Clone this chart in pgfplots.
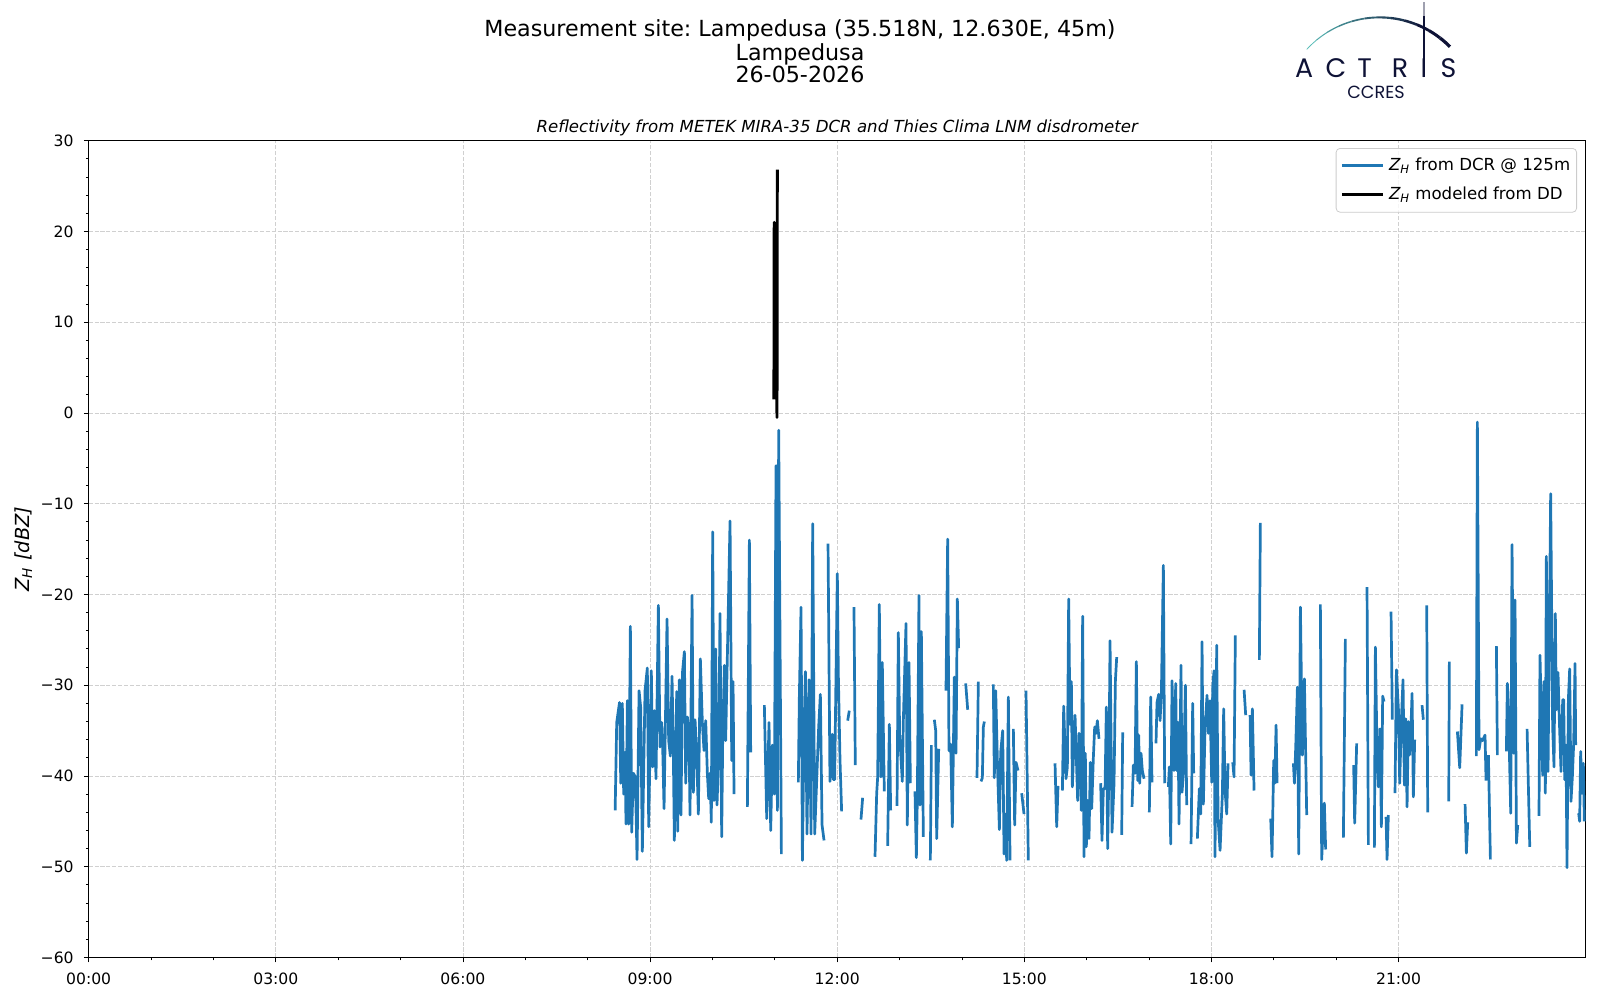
\documentclass[border=0pt]{standalone}
\usepackage{fontspec}
\setmainfont{DejaVu Sans}
\newfontfamily\logofont{Poppins}
\usepackage{pgfplots}
\pgfplotsset{compat=1.18}
\frenchspacing
\definecolor{mplblue}{HTML}{1F77B4}
\definecolor{gridgray}{HTML}{D0D0D0}
\definecolor{logonavy}{HTML}{0E1236}
\definecolor{logoteal}{HTML}{5BBDB8}
\definecolor{legedge}{HTML}{CCCCCC}
\begin{document}
\begin{tikzpicture}
\useasboundingbox (0,0) rectangle (800pt,500pt);
% titles
\node[anchor=base,inner sep=0pt,font=\fontsize{11.1}{13}\selectfont] at (400pt,481.65pt) {Measurement site: Lampedusa (35.518N, 12.630E, 45m)};
\node[anchor=base,inner sep=0pt,font=\fontsize{11.1}{13}\selectfont] at (400pt,469.9pt) {Lampedusa};
\node[anchor=base,inner sep=0pt,font=\fontsize{11.1}{13}\selectfont] at (400pt,458.7pt) {26-05-2026};
% logo
\foreach \i in {0,...,11} {
  \pgfmathsetmacro\aa{137.4-\i*7.725}
  \pgfmathsetmacro\bb{137.4-(\i+1)*7.725}
  \pgfmathsetmacro\cc{min(100,100*\i/9)}
  \pgfmathsetmacro\ww{0.4+\i*0.11}
  \draw[color=logonavy!\cc!logoteal, line width=\ww pt] ([shift={(\aa:49.5pt)}]689.8pt,441.8pt) arc[start angle=\aa, end angle=\bb, radius=49.5pt];
}
\draw[logonavy, line width=1.3pt] (712pt,461.35pt) -- (712pt,492pt);
\draw[logonavy!40, line width=1.3pt] (712pt,492pt) -- (712pt,499pt);
\foreach \l/\x in {A/652.1, C/668, T/682.25, R/700, I/712, S/724.25} {
  \node[anchor=base,inner sep=0pt,text=logonavy,font=\logofont\fontsize{13.4}{15}\selectfont] at (\x pt,461.35pt) {\l};
}
\node[anchor=base,inner sep=0pt,text=logonavy,font=\logofont\fontsize{8.8}{10}\selectfont] at (688pt,450.5pt) {CCRES};
\begin{axis}[
  at={(44.35pt,21.25pt)}, anchor=south west,
  width=748.5pt, height=408.4pt, scale only axis,
  xmin=0, xmax=24, ymin=-60, ymax=30,
  xtick={0,3,6,9,12,15,18,21},
  xticklabels={00:00,03:00,06:00,09:00,12:00,15:00,18:00,21:00},
  minor x tick num=2,
  ytick={-60,-50,-40,-30,-20,-10,0,10,20,30},
  yticklabels={−60,−50,−40,−30,−20,−10,0,10,20,30},
  minor y tick num=4,
  tick align=outside, tick pos=left,
  major tick length=2.45pt, minor tick length=1.4pt,
  every tick/.style={black, line width=0.45pt},
  axis line style={black, line width=0.55pt},
  grid=major,
  major grid style={gridgray, line width=0.4pt, dash pattern=on 2.05pt off 0.9pt},
  ticklabel style={font=\fontsize{7.8}{9}\selectfont, inner sep=0pt},
  xticklabel style={yshift=-4.9pt},
  yticklabel style={xshift=-4.9pt},
  title={\itshape Reflectivity from METEK MIRA-35 DCR and Thies Clima LNM disdrometer},
  title style={at={(axis description cs:0.5,1)}, anchor=base, yshift=-1.95pt, inner sep=0pt, font=\fontsize{8.3}{10}\selectfont},
  ylabel={\itshape Z\textsubscript{H} [dBZ]},
  ylabel style={at={(axis description cs:-0.0437,0.5)}, anchor=center, inner sep=0pt, font=\fontsize{9.7}{11}\selectfont},
  unbounded coords=jump,
  legend cell align=left,
  legend style={at={(1,1)}, anchor=north east, xshift=-4.35pt, yshift=-3.65pt,
    draw=legedge, rounded corners=2pt, fill=white, fill opacity=0.8, text opacity=1,
    font=\fontsize{8.3}{10}\selectfont, inner xsep=2.2pt, inner ysep=3.7pt, row sep=4.5pt,
    nodes={inner sep=1pt, text height=6.2pt, text depth=1.8pt}},
  legend image code/.code={\draw[#1] (0pt,0pt) -- (20.3pt,0pt); \path (21.8pt,0pt);},
]
\addplot[mplblue, line width=1.35pt, line join=round] coordinates {
(8.44,-43.8)(8.465,-34.1)(8.51,-31.9)(8.53,-40.8)(8.555,-32.0)(8.577,-42.0)(8.598,-37.4)(8.614,-45.3)(8.636,-31.7)(8.657,-45.3)(8.684,-23.5)(8.705,-46.2)(8.732,-39.7)(8.764,-40.1)(8.791,-49.2)(8.823,-30.6)(8.849,-32.4)(8.876,-48.3)(8.919,-30.6)(8.956,-28.1)(8.978,-45.6)(9.020,-28.4)(9.042,-39.0)(9.069,-32.8)(9.095,-40.3)(9.133,-21.2)(9.159,-36.8)(9.186,-34.1)(9.202,-36.8)(9.224,-43.6)(9.245,-34.4)(9.272,-22.7)(9.298,-36.1)(9.325,-37.8)(9.352,-29.0)(9.373,-37.5)(9.389,-47.1)(9.427,-30.7)(9.443,-46.1)(9.469,-29.4)(9.496,-44.3)(9.518,-28.7)(9.550,-26.3)(9.571,-40.8)(9.598,-33.5)(9.624,-35.3)(9.640,-44.3)(9.673,-20.1)(9.694,-41.8)(9.721,-33.8)(9.747,-37.5)(9.774,-44.2)(9.806,-27.1)(9.838,-34.1)(9.865,-37.2)(9.892,-33.9)(9.918,-39.7)(9.940,-42.5)(9.961,-39.7)(9.982,-45.1)(10.004,-13.1)(10.025,-42.7)(10.052,-26.0)(10.073,-43.2)(10.100,-37.5)(10.121,-22.1)(10.148,-46.7)(10.164,-36.1)(10.191,-27.8)(10.212,-36.1)(10.282,-11.9)(10.309,-38.3)(10.330,-29.6)(10.346,-42.0)(10.40,nan)
(10.560,-43.4)(10.592,-14.0)(10.613,-37.4)(10.70,nan)
(10.832,-32.2)(10.870,-44.7)(10.907,-34.1)(10.934,-46.0)(10.961,-36.6)(10.993,-42.0)(11.019,-5.8)(11.041,-43.8)(11.062,-1.9)(11.105,-48.6)(11.2,nan)
(11.377,-40.7)(11.393,-31.3)(11.420,-21.4)(11.442,-49.3)(11.468,-35.3)(11.490,-28.5)(11.516,-46.4)(11.548,-29.4)(11.581,-46.4)(11.607,-12.2)(11.639,-46.4)(11.703,-34.6)(11.730,-31.0)(11.757,-45.4)(11.789,-47.1)(11.82,nan)
(11.853,-14.4)(11.884,-40.6)(11.922,-35.4)(11.938,-40.4)(11.959,-40.4)(12.002,-17.7)(12.018,-28.8)(12.045,-38.3)(12.071,-43.9)(12.12,nan)
(12.168,-33.9)(12.194,-32.8)(12.23,nan)(12.269,-21.4)(12.290,-38.8)(12.33,nan)(12.381,-44.8)(12.408,-42.4)(12.5,nan)
(12.606,-48.9)(12.633,-41.9)(12.649,-40.1)(12.675,-21.1)(12.702,-40.1)(12.723,-27.5)(12.755,-41.7)(12.78,nan)(12.809,-47.7)(12.836,-34.3)(12.857,-43.8)(12.9,nan)
(12.959,-43.3)(12.980,-24.2)(13.001,-35.5)(13.044,-40.6)(13.060,-34.0)(13.103,-23.2)(13.124,-45.4)(13.151,-27.5)(13.173,-40.8)(13.2,nan)
(13.247,-41.7)(13.269,-49.0)(13.285,-42.2)(13.311,-20.1)(13.327,-43.2)(13.349,-24.1)(13.381,-46.7)(13.44,nan)(13.493,-49.3)(13.510,-36.6)(13.53,nan)
(13.557,-33.8)(13.579,-35.0)(13.595,-46.9)(13.627,-37.0)(13.7,nan)
(13.744,-30.6)(13.771,-13.9)(13.792,-37.2)(13.819,-36.5)(13.846,-45.6)(13.878,-29.1)(13.905,-37.5)(13.926,-20.5)(13.947,-25.9)(14.0,nan)
(14.060,-29.8)(14.092,-32.7)(14.15,nan)(14.241,-40.2)(14.263,-29.6)(14.28,nan)(14.306,-40.6)(14.327,-40.2)(14.343,-34.6)(14.359,-34.0)(14.43,nan)
(14.503,-29.9)(14.519,-40.2)(14.541,-30.6)(14.573,-39.7)(14.600,-45.9)(14.621,-37.4)(14.653,-35.0)(14.675,-48.6)(14.696,-44.2)(14.717,-49.3)(14.744,-31.3)(14.771,-49.3)(14.8,nan)
(14.824,-34.8)(14.845,-45.4)(14.867,-38.5)(14.899,-39.4)(14.93,nan)(14.958,-41.9)(14.995,-44.2)(15.01,nan)(15.027,-30.6)(15.064,-49.3)(15.2,nan)
(15.492,-38.6)(15.519,-45.6)(15.540,-41.1)(15.58,nan)
(15.610,-41.6)(15.631,-32.3)(15.668,-40.3)(15.690,-39.0)(15.711,-20.5)(15.732,-34.3)(15.754,-29.6)(15.770,-41.2)(15.813,-33.3)(15.855,-42.7)(15.877,-35.3)(15.898,-37.5)(15.914,-43.8)(15.935,-22.4)(15.957,-48.9)(15.978,-37.5)(15.994,-47.8)(16.016,-42.7)(16.037,-46.9)(16.058,-38.5)(16.080,-43.6)(16.107,-37.9)(16.128,-34.6)(16.149,-35.3)(16.171,-33.9)(16.197,-35.9)(16.21,nan)
(16.224,-40.8)(16.245,-47.1)(16.267,-41.4)(16.294,-41.4)(16.315,-32.4)(16.336,-48.0)(16.358,-37.9)(16.374,-25.1)(16.406,-46.2)(16.438,-40.8)(16.460,-29.5)(16.481,-26.9)(16.52,nan)
(16.561,-46.5)(16.577,-35.2)(16.65,nan)
(16.727,-43.4)(16.748,-38.8)(16.775,-39.7)(16.796,-27.4)(16.817,-40.5)(16.833,-35.5)(16.849,-40.8)(16.871,-37.5)(16.892,-39.4)(16.919,-40.3)(16.96,nan)
(17.004,-44.0)(17.026,-31.3)(17.047,-40.7)(17.08,nan)
(17.111,-36.4)(17.127,-31.9)(17.154,-31.0)(17.176,-33.9)(17.197,-31.0)(17.229,-16.8)(17.250,-40.8)(17.28,nan)
(17.309,-41.2)(17.325,-39.0)(17.347,-47.5)(17.368,-29.5)(17.400,-39.4)(17.427,-29.8)(17.443,-39.4)(17.464,-34.1)(17.480,-45.3)(17.512,-27.8)(17.528,-41.8)(17.555,-39.4)(17.582,-30.0)(17.603,-43.2)(17.64,nan)
(17.673,-47.5)(17.699,-32.0)(17.715,-39.7)(17.75,nan)
(17.774,-46.9)(17.806,-41.4)(17.828,-44.2)(17.849,-25.2)(17.870,-43.1)(17.897,-34.8)(17.929,-31.1)(17.951,-35.3)(17.977,-31.7)(18.004,-40.7)(18.020,-30.2)(18.041,-28.4)(18.057,-48.9)(18.084,-25.6)(18.106,-44.7)(18.138,-48.2)(18.175,-42.0)(18.196,-32.6)(18.218,-41.6)(18.245,-44.2)(18.266,-38.6)(18.3,nan)
(18.341,-38.5)(18.362,-40.1)(18.383,-24.5)(18.45,nan)(18.523,-30.5)(18.549,-33.3)(18.58,nan)(18.619,-33.3)(18.635,-39.9)(18.656,-32.6)(18.683,-41.6)(18.72,nan)
(18.768,-27.2)(18.784,-12.1)(18.85,nan)
(18.950,-44.7)(18.971,-48.9)(18.998,-38.3)(19.015,-40.8)(19.036,-34.4)(19.052,-40.8)(19.1,nan)
(19.314,-38.6)(19.330,-40.8)(19.351,-36.8)(19.378,-30.2)(19.399,-48.6)(19.426,-21.4)(19.458,-37.7)(19.490,-29.3)(19.527,-44.3)(19.6,nan)
(19.746,-21.1)(19.767,-49.2)(19.810,-43.0)(19.831,-48.1)(19.9,nan)
(20.115,-46.8)(20.147,-24.9)(20.2,nan)(20.280,-38.8)(20.296,-45.2)(20.328,-36.4)(20.4,nan)
(20.494,-19.2)(20.516,-47.6)(20.56,nan)
(20.612,-47.9)(20.628,-25.8)(20.655,-37.5)(20.676,-41.2)(20.703,-34.8)(20.724,-45.6)(20.745,-31.2)(20.767,-31.8)(20.78,nan)(20.799,-44.5)(20.815,-49.2)(20.836,-44.3)(20.86,nan)
(20.879,-21.9)(20.900,-33.8)(20.92,nan)
(20.943,-41.9)(20.965,-28.3)(20.997,-32.6)(21.018,-40.8)(21.045,-33.8)(21.071,-29.4)(21.093,-41.0)(21.114,-33.7)(21.136,-43.4)(21.157,-34.0)(21.173,-37.7)(21.194,-35.6)(21.216,-30.9)(21.237,-42.3)(21.258,-36.0)(21.3,nan)
(21.376,-32.2)(21.397,-33.8)(21.42,nan)(21.451,-21.2)(21.467,-44.0)(21.6,nan)
(21.804,-42.8)(21.814,-27.4)(21.9,nan)(21.943,-35.1)(21.980,-39.1)(22.018,-32.1)(22.04,nan)(22.066,-43.1)(22.087,-48.5)(22.108,-45.1)(22.2,nan)
(22.247,-37.8)(22.263,-1.0)(22.290,-37.1)(22.317,-35.9)(22.344,-36.1)(22.386,-35.5)(22.402,-40.5)(22.42,nan)(22.440,-37.7)(22.472,-49.2)(22.5,nan)
(22.568,-25.7)(22.584,-37.7)(22.65,nan)
(22.728,-37.3)(22.744,-29.8)(22.766,-34.2)(22.798,-44.1)(22.819,-14.5)(22.845,-37.5)(22.867,-20.6)(22.889,-47.4)(22.910,-45.4)(22.98,nan)
(23.060,-34.8)(23.103,-47.8)(23.2,nan)
(23.251,-44.4)(23.267,-26.7)(23.310,-39.9)(23.331,-29.6)(23.353,-41.9)(23.369,-15.8)(23.396,-39.5)(23.438,-8.9)(23.470,-34.6)(23.492,-39.0)(23.513,-22.1)(23.529,-32.7)(23.556,-28.6)(23.572,-32.7)(23.604,-39.5)(23.631,-31.6)(23.647,-31.6)(23.663,-40.4)(23.684,-36.6)(23.700,-50.1)(23.722,-31.6)(23.743,-28.2)(23.764,-42.8)(23.786,-40.1)(23.807,-36.4)(23.829,-27.6)(23.839,-36.6)(23.86,nan)
(23.887,-44.1)(23.903,-45.0)(23.919,-37.3)(23.941,-41.9)(23.962,-38.6)(23.978,-45.0)
};
\addlegendentry{{\itshape Z\textsubscript{H}} from DCR @ 125m}
\addplot[black, line width=1.45pt, line join=round] coordinates {
(10.985,1.5)(10.99,21.0)(11.035,-0.5)(11.04,26.8)
};
\addlegendentry{{\itshape Z\textsubscript{H}} modeled from DD}
\end{axis}
\end{tikzpicture}
\end{document}
